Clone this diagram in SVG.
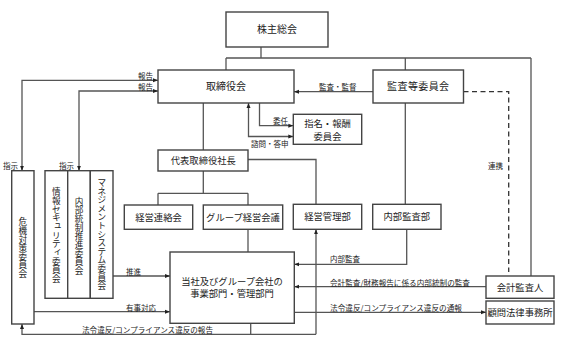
<svg xmlns="http://www.w3.org/2000/svg" width="567" height="348" viewBox="0 0 567 348">
<defs>
<marker id="ah" viewBox="0 0 10 10" refX="10" refY="5" markerWidth="5" markerHeight="5" orient="auto-start-reverse" markerUnits="userSpaceOnUse">
<path d="M0,1 L10,5 L0,9 Z" fill="#222"/>
</marker>
<style>
.box{fill:#fff;stroke:#444;stroke-width:1.4}
.ln{fill:none;stroke:#555;stroke-width:1.3}
.dash{fill:none;stroke:#333;stroke-width:1.3;stroke-dasharray:5,3.5}
.t{font-family:"Noto Sans CJK JP","Noto Sans",sans-serif;fill:#222;text-anchor:middle}
.b10{font-size:10px}
.b9{font-size:9.3px}
.lb{font-family:"Noto Sans CJK JP","Noto Sans",sans-serif;fill:#222;font-size:7.5px}
.v{font-family:"Noto Sans CJK JP","Noto Sans",sans-serif;fill:#222;font-size:8.6px;text-anchor:middle}
</style>
</defs>
<rect width="567" height="348" fill="#fff"/>

<g id="connectors">
<path class="ln" d="M261,47 V58 M226,58 H531 M226,58 V70 M405.3,58 V70 M531,58 V276"/>
<path class="ln" d="M373,91.7 H294" marker-end="url(#ah)"/>
<path class="dash" d="M463.5,91.7 H508.7 V272"/>
<path class="ln" d="M158,80.3 H22 V170.7" marker-start="url(#ah)" marker-end="url(#ah)"/>
<path class="ln" d="M158,91 H79 V170.7" marker-start="url(#ah)" marker-end="url(#ah)"/>
<path class="ln" d="M203.3,103 V150"/>
<path class="ln" d="M259.5,103 V125.7 H293.3" marker-end="url(#ah)"/>
<path class="ln" d="M293.3,136.5 H248.5 V103" marker-start="url(#ah)" marker-end="url(#ah)"/>
<path class="ln" d="M248,159.5 H316 V204.3"/>
<path class="ln" d="M203.3,171 V193.3 M158,193.3 H248 M158,193.3 V205 M248,193.3 V205"/>
<path class="ln" d="M248,229.3 V252"/>
<path class="ln" d="M405.3,103 V204.3"/>
<path class="ln" d="M406.7,229.3 V264.3 H294.3" marker-end="url(#ah)"/>
<path class="ln" d="M486,286.7 H294.3" marker-end="url(#ah)"/>
<path class="ln" d="M294.3,312.3 H486" marker-end="url(#ah)"/>
<path class="ln" d="M113,276 H170" marker-end="url(#ah)"/>
<path class="ln" d="M34,311.7 H170" marker-end="url(#ah)"/>
<path class="ln" d="M250.7,323.3 V334.3"/>
<path class="ln" d="M316,334.3 H22 V324" marker-end="url(#ah)"/>
<path class="ln" d="M316,334.3 V229.3" marker-end="url(#ah)"/>
</g>

<g id="labels">
<text class="lb" x="153" y="79" text-anchor="end">報告</text>
<text class="lb" x="153" y="90" text-anchor="end">報告</text>
<text class="lb" x="3" y="168.5">指示</text>
<text class="lb" x="59" y="168.5">指示</text>
<text class="lb" x="319" y="89.8">監査・監督</text>
<text class="lb" x="273" y="123.5">委任</text>
<text class="lb" x="251" y="147">諮問・答申</text>
<text class="lb" x="488" y="168.8">連携</text>
<text class="lb" x="330" y="262">内部監査</text>
<text class="lb" x="330" y="285.5" textLength="140" lengthAdjust="spacingAndGlyphs">会計監査/財務報告に係る内部統制の監査</text>
<text class="lb" x="330" y="311" textLength="132" lengthAdjust="spacingAndGlyphs">法令違反/コンプライアンス違反の通報</text>
<text class="lb" x="126" y="274.5">推進</text>
<text class="lb" x="126" y="311">有事対応</text>
<text class="lb" x="82" y="333" textLength="131" lengthAdjust="spacingAndGlyphs">法令違反/コンプライアンス違反の報告</text>
</g>

<g id="n-kabunushi"><rect class="box" x="226" y="12" width="102" height="35"/><text class="t b10" x="277" y="33">株主総会</text></g>
<g id="n-torishimariyaku"><rect class="box" x="158" y="70" width="136" height="33"/><text class="t b10" x="226" y="90">取締役会</text></g>
<g id="n-kansa"><rect class="box" x="373" y="70" width="90.5" height="33"/><text class="t b10" x="418.3" y="90" letter-spacing="0.4">監査等委員会</text></g>
<g id="n-shimei"><rect class="box" x="293.3" y="114.3" width="68.4" height="30"/><text class="t b9" x="327.5" y="127">指名・報酬</text><text class="t b9" x="327.5" y="139.5">委員会</text></g>
<g id="n-shacho"><rect class="box" x="158" y="150" width="90" height="21"/><text class="t b9" x="203.3" y="164">代表取締役社長</text></g>
<g id="n-keieirenraku"><rect class="box" x="124.3" y="205" width="68.4" height="24.3"/><text class="t b9" x="158.5" y="220.5">経営連絡会</text></g>
<g id="n-group"><rect class="box" x="203.3" y="205" width="79.4" height="24.3"/><text class="t b9" x="243" y="220.5">グループ経営会議</text></g>
<g id="n-keieikanri"><rect class="box" x="293.3" y="204.3" width="68.4" height="25"/><text class="t b9" x="327.5" y="220.3">経営管理部</text></g>
<g id="n-naibukansa"><rect class="box" x="372.7" y="204.3" width="68.3" height="25"/><text class="t b9" x="406.8" y="220.3">内部監査部</text></g>
<g id="n-tousha"><rect class="box" x="170" y="252" width="124.3" height="71.3"/><text class="t b9" x="232" y="284.5">当社及びグループ会社の</text><text class="t b9" x="232" y="297">事業部門・管理部門</text></g>
<g id="n-kaikei"><rect class="box" x="486" y="276" width="68" height="22.3"/><text class="t b9" x="520" y="290.5">会計監査人</text></g>
<g id="n-komon"><rect class="box" x="486" y="301" width="68" height="23"/><text class="t b9" x="520" y="315.8">顧問法律事務所</text></g>
<g id="n-kiki"><rect class="box" x="11.7" y="170.7" width="22.3" height="153.3"/><text class="v" x="22.8 22.8 22.8 22.8 22.8 22.8 22.8" y="225.4 234 242.6 251.2 259.8 268.4 277">危機対策委員会</text></g>
<g id="n-joho"><rect class="box" x="45" y="170.7" width="22.7" height="127.6"/><text class="v" x="56.4 56.4 56.4 56.4 57.8 56.4 56.4 57.8 56.4 56.4 56.4" y="195.4 204 212.7 221.3 228.3 238.6 247.2 254.2 264.5 273.2 281.8">情報セキュリティ委員会</text></g>
<g id="n-naibutousei"><rect class="box" x="67.7" y="170.7" width="22.6" height="127.6"/><text class="v" x="79 79 79 79 79 79 79 79 79" y="204.7 213.3 222 230.6 239.2 247.9 256.5 265.1 273.8">内部統制推進委員会</text></g>
<g id="n-management"><rect class="box" x="90.3" y="170.7" width="22.7" height="127.6"/><text class="v" x="101.7 101.7 101.7 101.7 101.7 101.7 101.7 101.7 101.7 101.7 101.7 101.7 101.7" y="185.9 194.5 203.1 211.7 220.3 228.9 237.5 246.1 254.7 263.3 271.9 280.5 289.1">マネジメントシステム委員会</text></g>
</svg>
